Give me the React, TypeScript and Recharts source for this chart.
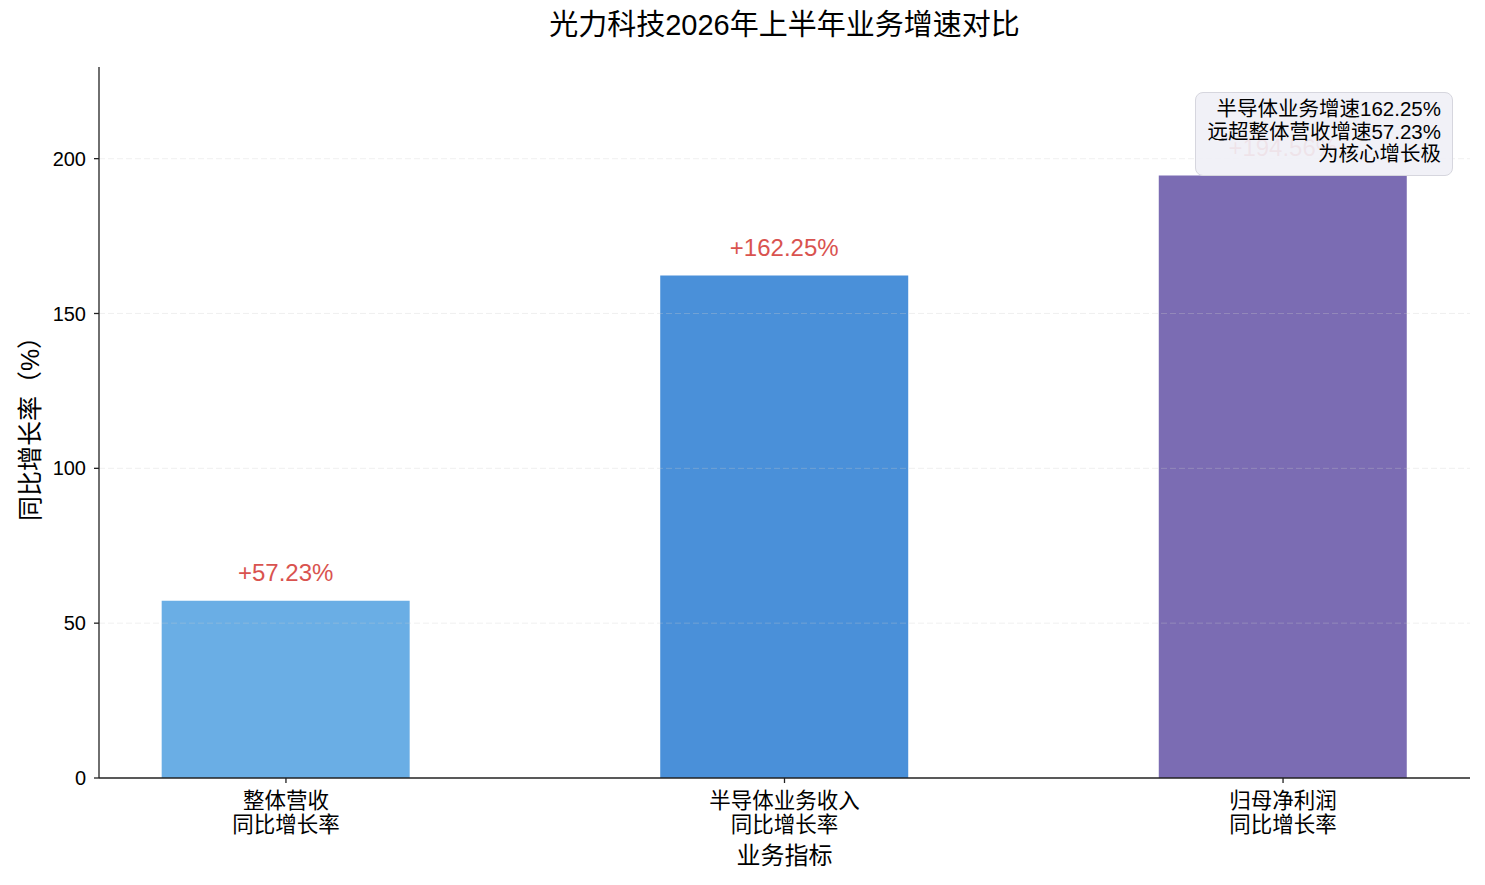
import React from 'react';
import {
  BarChart,
  Bar,
  Cell,
  XAxis,
  YAxis,
  ReferenceLine,
} from 'recharts';

const categories = ['整体营收\n同比增长率', '半导体业务收入\n同比增长率', '归母净利润\n同比增长率'];
const growth = [57.23, 162.25, 194.56];
const yTicks = [0, 50, 100, 150, 200];
const noteLines = ['半导体业务增速162.25%', '远超整体营收增速57.23%', '为核心增长极'];

const BAR_COLORS = ['#6aaee5', '#4a90d9', '#7b6cb3'];
const FONT = "'Liberation Sans', 'Noto Sans CJK SC', sans-serif";

const data = growth.map((value, idx) => ({ idx, value }));

const CategoryTick = (props: any) => {
  const { x, y, payload } = props;
  const lines = categories[payload.value].split('\n');
  return (
    <text x={x} y={y} textAnchor="middle" fontSize={21.5} fontFamily={FONT} fill="#000">
      {lines.map((line, i) => (
        <tspan key={i} x={x} dy={i === 0 ? 23 : 24}>{line}</tspan>
      ))}
    </text>
  );
};

const ValueLabel = (props: any) => {
  const { x, y, width, value } = props;
  return (
    <text x={x + width / 2} y={y - 20} textAnchor="middle" fontSize={24} fontFamily={FONT} fill="#d9534f">
      {`+${value.toFixed(2)}%`}
    </text>
  );
};

export default function App() {
  return (
    <div style={{ position: 'absolute', left: 0, top: 0, width: 1485, height: 885, background: '#fff', fontFamily: FONT }}>
      <div style={{ position: 'absolute', left: 99, width: 1371, top: 7, textAlign: 'center', fontSize: 29, lineHeight: '36px' }}>
        光力科技2026年上半年业务增速对比
      </div>
      <BarChart width={1485} height={885} data={data} margin={{ top: 67, right: 15, bottom: 0, left: 0 }}>
        <XAxis
          type="number"
          dataKey="idx"
          domain={[-0.375, 2.375]}
          ticks={[0, 1, 2]}
          height={107}
          tickSize={5}
          tick={<CategoryTick />}
          axisLine={{ stroke: '#222', strokeWidth: 1.3 }}
          tickLine={{ stroke: '#222', strokeWidth: 1.3 }}
          label={{ value: '业务指标', position: 'center', dy: 24, style: { fontSize: 24, fontFamily: FONT, fill: '#000' } }}
        />
        <YAxis
          domain={[0, 229.6]}
          ticks={yTicks}
          width={99}
          tickSize={5}
          tickMargin={8}
          tick={{ fontSize: 20, fontFamily: FONT, fill: '#000' }}
          axisLine={{ stroke: '#222', strokeWidth: 1.3 }}
          tickLine={{ stroke: '#222', strokeWidth: 1.3 }}
          label={{ value: '同比增长率（%）', angle: -90, position: 'center', dx: -19, style: { fontSize: 25, fontFamily: FONT, fill: '#000' } }}
        />
        <Bar dataKey="value" barSize={248} isAnimationActive={false} label={<ValueLabel />}>
          {data.map((d) => (
            <Cell key={d.idx} fill={BAR_COLORS[d.idx]} />
          ))}
        </Bar>
        {yTicks.slice(1).map((t) => (
          <ReferenceLine key={t} y={t} stroke="#cccccc" strokeOpacity={0.3} strokeDasharray="6 3" />
        ))}
      </BarChart>
      <div
        style={{
          position: 'absolute',
          left: 1195,
          top: 92,
          width: 258,
          height: 84,
          boxSizing: 'border-box',
          padding: '5px 11px 0 0',
          background: 'rgba(240,240,246,0.92)',
          border: '1.5px solid #d6d6de',
          borderRadius: 8,
          textAlign: 'right',
          fontSize: 20.5,
          lineHeight: '22.5px',
          color: '#000',
          whiteSpace: 'nowrap',
        }}
      >
        {noteLines.map((l, i) => (
          <div key={i}>{l}</div>
        ))}
      </div>
    </div>
  );
}
